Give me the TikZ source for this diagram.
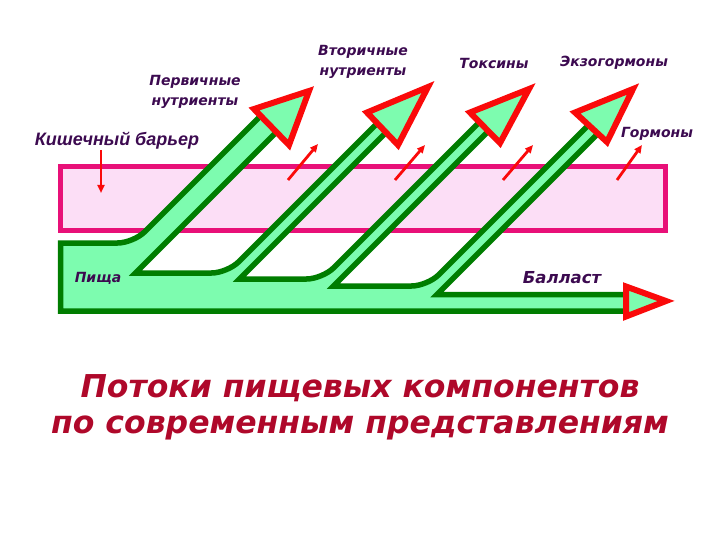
\documentclass[tikz,border=0pt]{standalone}
\usepackage{fontspec}
\usetikzlibrary{arrows.meta}
\newfontfamily\dv{DejaVu Sans}
\newfontfamily\lib{Liberation Sans}
\definecolor{dkgreen}{RGB}{0,125,0}
\definecolor{mint}{RGB}{125,252,175}
\definecolor{bpink}{RGB}{252,222,246}
\definecolor{bmag}{RGB}{232,16,120}
\definecolor{hred}{RGB}{250,10,10}
\definecolor{lpurple}{RGB}{60,10,80}
\definecolor{tcrimson}{RGB}{175,8,42}
\tikzset{
  chan/.style={draw=dkgreen, fill=mint, line width=5.5pt, line join=miter},
  headtri/.style={draw=hred, fill=mint, line width=6pt, line join=miter},
  barrier/.style={draw=bmag, fill=bpink, line width=5pt},
  redarrow/.style={draw=hred, line width=2.8pt, -{Triangle[length=8pt,width=7pt]}},
  lab/.style={text=lpurple, font=\dv\bfseries\itshape\fontsize{14}{20}\selectfont, align=center, inner sep=0pt},
  biglab/.style={text=lpurple, font=\lib\bfseries\itshape\fontsize{18}{22}\selectfont, inner sep=0pt},
  titletext/.style={font=\dv\bfseries\itshape\fontsize{31.5}{36}\selectfont, inner sep=0pt, anchor=base, text=tcrimson}
}
\begin{document}
\begin{tikzpicture}[x=1pt,y=-1pt]
\useasboundingbox (0,0) rectangle (720,540);

% intestinal barrier
\draw[barrier] (60.5,166.5) rectangle (665.5,230.5);

% food channel with branches
\draw[chan] (60.5,311) -- (60.5,243) -- (117.5,243) .. controls (126.3,243) and (138.6,237.9) .. (144.8,231.7)
 -- (262,114.5) -- (278,130.5) -- (135.5,273) -- (211.5,273) .. controls (220.3,273) and (232.6,267.9) .. (238.8,261.7)
 -- (380,120.5) -- (389,129.5) -- (239.5,279) -- (306.5,279) .. controls (315.3,279) and (327.6,273.9) .. (333.8,267.7)
 -- (482,119.5) -- (491,128.5) -- (333.5,286) -- (411.5,286) .. controls (420.3,286) and (432.6,280.9) .. (438.8,274.7)
 -- (590,123.5) -- (599,132.5) -- (437,294.5) -- (630,294.5) -- (630,311) -- cycle;

% arrow heads
\draw[headtri] (309,91) -- (254,109) -- (289,145) -- cycle;
\draw[headtri] (428,87) -- (367,112.5) -- (398,145) -- cycle;
\draw[headtri] (529,89) -- (470,112.5) -- (500,143) -- cycle;
\draw[headtri] (633,89) -- (575,112.5) -- (607,142) -- cycle;
\draw[headtri] (666,301) -- (626,286.5) -- (626,316.5) -- cycle;

% small red arrows
\coordinate (v0) at (101,150); \coordinate (v1) at (101,193);
\coordinate (a0) at (288,180); \coordinate (a1) at (318,144);
\coordinate (b0) at (395,180); \coordinate (b1) at (425,145);
\coordinate (c0) at (503,180); \coordinate (c1) at (533,145);
\coordinate (d0) at (617,180); \coordinate (d1) at (642,145);
\draw[redarrow] (v0) -- (v1);
\draw[redarrow] (a0) -- (a1);
\draw[redarrow] (b0) -- (b1);
\draw[redarrow] (c0) -- (c1);
\draw[redarrow] (d0) -- (d1);

% labels
\node[lab] (prim) at (195,92) {Первичные\\нутриенты};
\node[lab] (sec) at (363,62) {Вторичные\\нутриенты};
\node[lab] (tox) at (494,63) {Токсины};
\node[lab] (exo) at (614,63) {Экзогормоны};
\node[lab] (horm) at (657,134) {Гормоны};
\node[biglab] (bar) at (117,141) {Кишечный барьер};
\node[lab] (food) at (98,278) {Пища};
\node[lab, font=\dv\bfseries\itshape\fontsize{16.5}{20}\selectfont] (ball) at (562,278) {Балласт};

% title
\node[titletext] (t1) at (360,397) {Потоки пищевых компонентов};
\node[titletext] (t2) at (360,433) {по современным представлениям};
\end{tikzpicture}
\end{document}
